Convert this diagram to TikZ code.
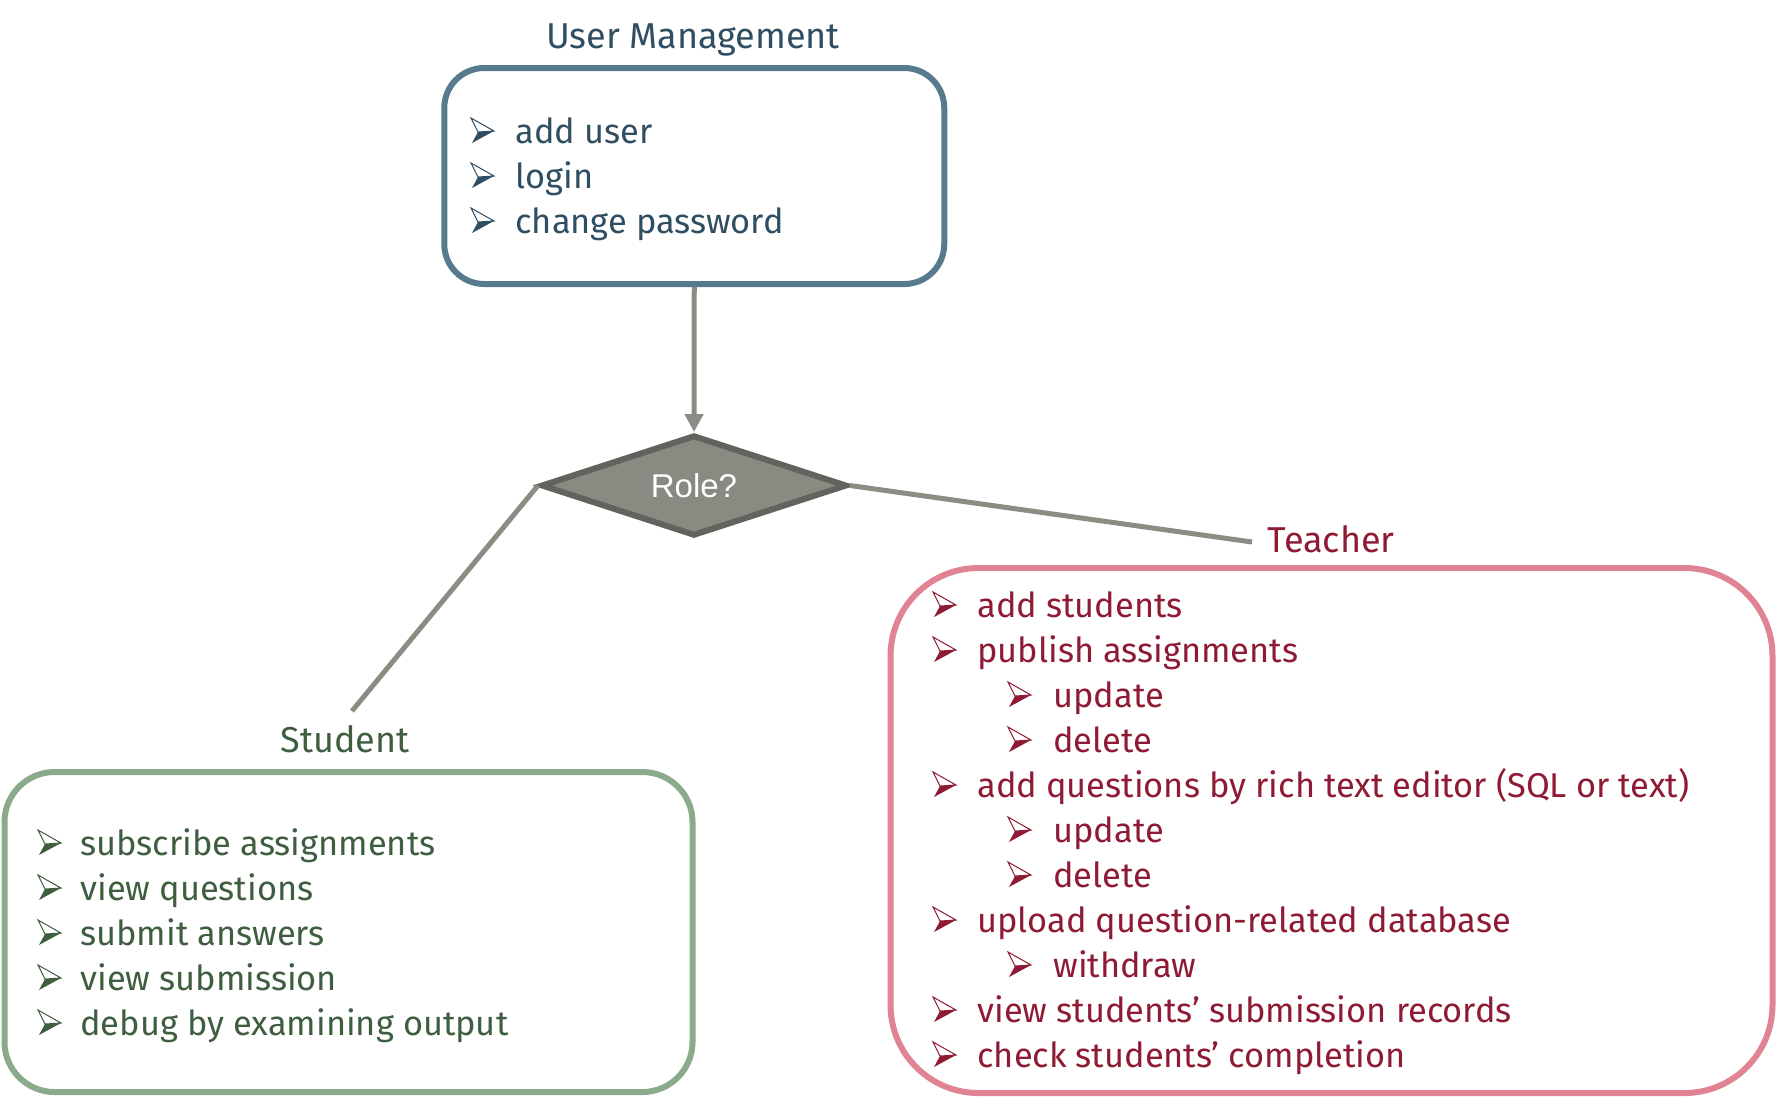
\documentclass[tikz,border=0pt]{standalone}
\usepackage{fontspec}
\setmainfont{Fira Sans}
\newfontfamily\arialf{Liberation Sans}
\usetikzlibrary{shapes.geometric,arrows.meta}
\definecolor{umline}{HTML}{577A8E}
\definecolor{umtext}{HTML}{2F4E62}
\definecolor{teline}{HTML}{E08493}
\definecolor{tetext}{HTML}{8E1B33}
\definecolor{stline}{HTML}{8BAA8B}
\definecolor{sttext}{HTML}{3F5E40}
\definecolor{connc}{HTML}{8C8C84}
\definecolor{diafill}{HTML}{8A8A82}
\definecolor{diaedge}{HTML}{63635D}
\begin{document}
\begin{tikzpicture}[x=0.5pt,y=-0.5pt,
  txt/.style={inner sep=0pt, font=\fontsize{17.2}{20}\selectfont},
  ttl/.style={inner sep=0pt, font=\fontsize{18}{20}\selectfont},
  item/.style={txt, anchor=base west},
  box/.style={draw, line width=3pt, inner sep=0pt, fill=white},
  conn/.style={draw=connc, line width=2.5pt},
  arrowbul/.pic={
    \fill[pic actions] (1,0) -- (7,-11) -- (23,-12) -- cycle;
    \draw[pic actions, line width=0.5pt, fill=white, line join=miter] (0,-25) -- (23,-12) -- (7,-11) -- cycle;
  }]
\useasboundingbox (0,0) rectangle (1777,1100);
% User management
\node[box, draw=umline, rounded corners=20pt, minimum width=250pt, minimum height=108pt] (um) at (694.25,176) {};
\node[ttl, text=umtext, anchor=base] (umtitle) at (693,48) {User Management};
\begin{scope}[every node/.style={item, text=umtext}, every pic/.style={umtext}]
\pic at (471,143) {arrowbul}; \node (u1) at (515,143) {add user};
\pic at (471,188) {arrowbul}; \node (u2) at (515,188) {login};
\pic at (471,233) {arrowbul}; \node (u3) at (515,233) {change password};
\end{scope}
% Diamond
\node[diamond, draw=diaedge, fill=diafill, line width=3pt, minimum width=153pt, minimum height=50.5pt, inner sep=0pt, aspect=3,
  text=white, font=\arialf\fontsize{16.5}{18}\selectfont] (role) at (694,485.5) {Role?};
\draw[conn, -{Triangle[width=9pt,length=9pt]}] (um.south) -- (role.north);
% Student
\coordinate (send) at (352,711);
\draw[conn] (role.west) -- (send);
\node[ttl, text=sttext, anchor=base] (sttitle) at (345,752) {Student};
\node[box, draw=stline, rounded corners=25pt, minimum width=344pt, minimum height=160pt] (stbox) at (348.5,932) {};
\begin{scope}[every node/.style={item, text=sttext}, every pic/.style={sttext}]
\pic at (38,855) {arrowbul}; \node (s1) at (80,855) {subscribe assignments};
\pic at (38,900) {arrowbul}; \node (s2) at (80,900) {view questions};
\pic at (38,945) {arrowbul}; \node (s3) at (80,945) {submit answers};
\pic at (38,990) {arrowbul}; \node (s4) at (80,990) {view submission};
\pic at (38,1035) {arrowbul}; \node (s5) at (80,1035) {debug by examining output};
\end{scope}
% Teacher
\node[ttl, text=tetext, anchor=base west] (tetitle) at (1267,552) {Teacher};
\coordinate (tend) at (1252,542);
\draw[conn] (role.east) -- (tend);
\node[box, draw=teline, rounded corners=44pt, minimum width=441pt, minimum height=262.5pt] (tebox) at (1331.5,830.5) {};
\begin{scope}[every node/.style={item, text=tetext}, every pic/.style={tetext}]
\pic at (933,617) {arrowbul}; \node (t1) at (977,617) {add students};
\pic at (933,662) {arrowbul}; \node (t2) at (977,662) {publish assignments};
\pic at (1008,707) {arrowbul}; \node (t3) at (1053,707) {update};
\pic at (1008,752) {arrowbul}; \node (t4) at (1053,752) {delete};
\pic at (933,797) {arrowbul}; \node (t5) at (977,797) {add questions by rich text editor (SQL or text)};
\pic at (1008,842) {arrowbul}; \node (t6) at (1053,842) {update};
\pic at (1008,887) {arrowbul}; \node (t7) at (1053,887) {delete};
\pic at (933,932) {arrowbul}; \node (t8) at (977,932) {upload question-related database};
\pic at (1008,977) {arrowbul}; \node (t9) at (1053,977) {withdraw};
\pic at (933,1022) {arrowbul}; \node (t10) at (977,1022) {view students’ submission records};
\pic at (933,1067) {arrowbul}; \node (t11) at (977,1067) {check students’ completion};
\end{scope}
\end{tikzpicture}
\end{document}
